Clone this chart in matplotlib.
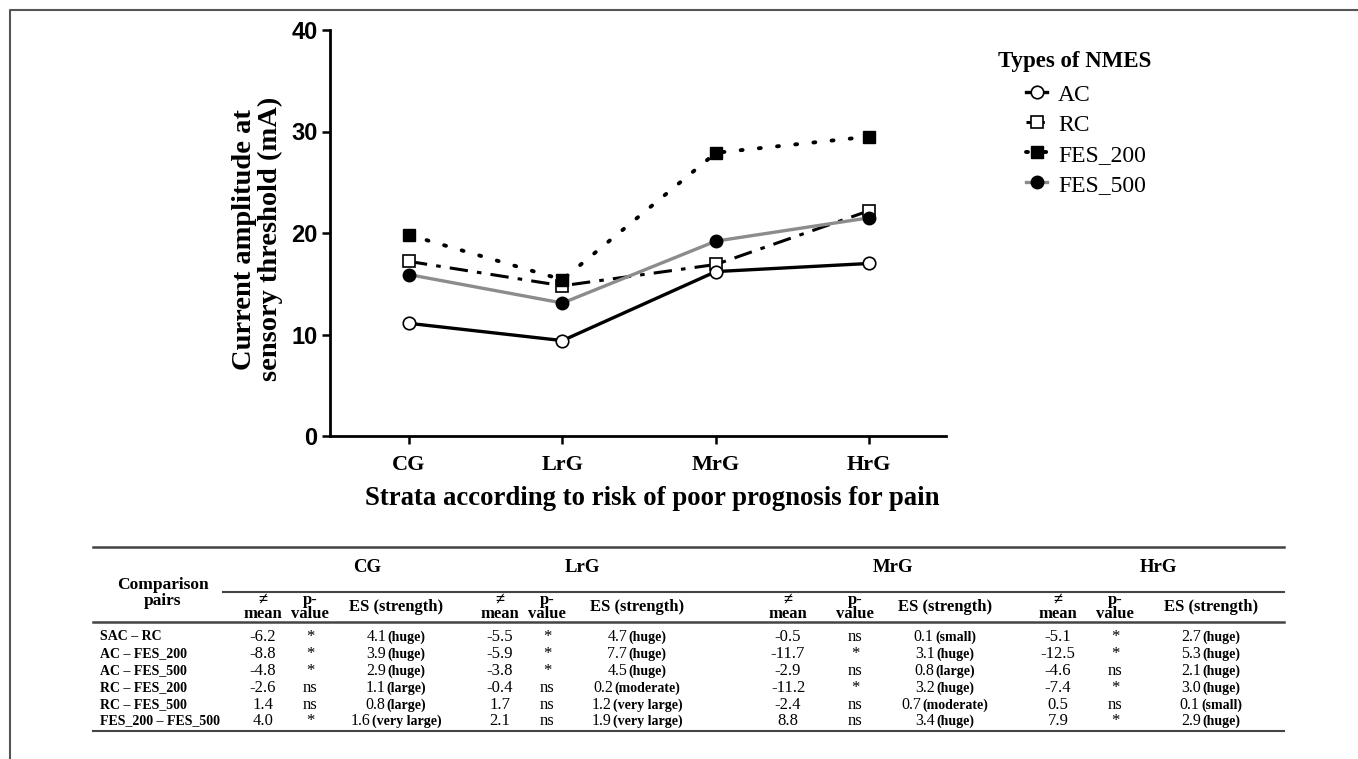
import matplotlib
matplotlib.use("Agg")
import matplotlib.pyplot as plt
from matplotlib.lines import Line2D
from matplotlib.offsetbox import TextArea, HPacker, AnnotationBbox

W, H = 1358, 759

# chart data
strata = ["CG", "LrG", "MrG", "HrG"]
ac = [11.1, 9.4, 16.2, 17.0]
rc = [17.2, 14.8, 16.9, 22.2]
fes_200 = [19.8, 15.4, 27.9, 29.5]
fes_500 = [15.9, 13.1, 19.2, 21.5]

# table data
pairs = ["SAC – RC", "AC – FES_200", "AC – FES_500", "RC – FES_200",
         "RC – FES_500", "FES_200 – FES_500"]
mean_cg = [-6.2, -8.8, -4.8, -2.6, 1.4, 4.0]
mean_lrg = [-5.5, -5.9, -3.8, -0.4, 1.7, 2.1]
mean_mrg = [-0.5, -11.7, -2.9, -11.2, -2.4, 8.8]
mean_hrg = [-5.1, -12.5, -4.6, -7.4, 0.5, 7.9]
p_cg = ["*", "*", "*", "ns", "ns", "*"]
p_lrg = ["*", "*", "*", "ns", "ns", "ns"]
p_mrg = ["ns", "*", "ns", "*", "ns", "ns"]
p_hrg = ["*", "*", "ns", "*", "ns", "*"]
es_cg = [4.1, 3.9, 2.9, 1.1, 0.8, 1.6]
es_lrg = [4.7, 7.7, 4.5, 0.2, 1.2, 1.9]
es_mrg = [0.1, 3.1, 0.8, 3.2, 0.7, 3.4]
es_hrg = [2.7, 5.3, 2.1, 3.0, 0.1, 2.9]
str_cg = ["huge", "huge", "huge", "large", "large", "very large"]
str_lrg = ["huge", "huge", "huge", "moderate", "very large", "very large"]
str_mrg = ["small", "huge", "large", "huge", "moderate", "huge"]
str_hrg = ["huge", "huge", "huge", "huge", "small", "huge"]

SERIF = ["Liberation Serif", "DejaVu Serif"]
NARROW = ["Liberation Sans Narrow", "Liberation Sans", "DejaVu Sans"]


def fx(x):
    return x / W


def fy(y):
    return 1 - y / H


fig = plt.figure(figsize=(W / 100, H / 100), dpi=100)

# outer frame (left + top)
fig.add_artist(Line2D([fx(10), fx(10), fx(W)], [0, fy(10), fy(10)],
                      color="#555555", lw=1.5))

ax = fig.add_axes([fx(330), fy(436), fx(946) - fx(330), fy(30) - fy(436)])
x = list(range(len(strata)))
ax.plot(x, ac, color="black", lw=2.4, marker="o", ms=9, mfc="white",
        mec="black", mew=1.2, label="AC", zorder=4)
ax.plot(x, rc, color="black", lw=2.2, ls=(0, (6, 3, 1.5, 3)), marker="s",
        ms=9, mfc="white", mec="black", mew=1.2, label="RC", zorder=3)
ax.plot(x, fes_200, color="black", lw=2.8, ls=(0, (0.5, 4.2)),
        dash_capstyle="round", marker="s", ms=9, mfc="black", mec="black",
        label="FES_200", zorder=3)
ax.plot(x, fes_500, color="#8c8c8c", lw=2.4, marker="o", ms=9, mfc="black",
        mec="black", label="FES_500", zorder=3)

ax.set_xlim(-0.515, 3.5)
ax.set_ylim(0, 40)
ax.set_yticks([0, 10, 20, 30, 40])
ax.set_xticks(x)
ax.set_xticklabels(strata, family=SERIF, fontweight="bold", fontsize=16)
for t in ax.get_yticklabels():
    t.set_family(NARROW)
    t.set_fontweight("bold")
    t.set_fontsize(17)
for s in ["top", "right"]:
    ax.spines[s].set_visible(False)
for s in ["left", "bottom"]:
    ax.spines[s].set_linewidth(2)
ax.tick_params(width=1.8, length=6, pad=3)
ax.tick_params(axis="x", pad=8)
ax.set_xlabel("Strata according to risk of poor prognosis for pain",
              family=SERIF, fontweight="bold", fontsize=19.3)
ax.xaxis.set_label_coords(0.523, -0.124)
ax.set_ylabel("Current amplitude at\nsensory threshold (mA)", family=SERIF,
              fontweight="bold", fontsize=20.5, linespacing=1.0)
ax.yaxis.set_label_coords(-0.077, 0.485)

fig.text(fx(998), fy(62), "Types of NMES", family=SERIF, fontweight="bold",
         fontsize=16.5, ha="left", va="center")
leg = ax.legend(loc="upper left", bbox_to_anchor=(fx(1026), fy(84)),
                bbox_transform=fig.transFigure, frameon=False,
                handlelength=0.9, handletextpad=0.45, labelspacing=0.36,
                borderaxespad=0, borderpad=0,
                prop={"family": SERIF, "size": 17})

# table
col_groups = [
    ("CG", 367, (263, mean_cg), (310, p_cg), (396, es_cg, str_cg)),
    ("LrG", 582, (500, mean_lrg), (547, p_lrg), (637, es_lrg, str_lrg)),
    ("MrG", 893, (788, mean_mrg), (855, p_mrg), (945, es_mrg, str_mrg)),
    ("HrG", 1158, (1058, mean_hrg), (1115, p_hrg), (1211, es_hrg, str_hrg)),
]
row_y = [637, 654, 671, 688, 705, 721]

for yl, x0, lw in [(547, 93, 1.8), (592, 223, 1.5), (622, 93, 1.8),
                   (731, 93, 1.5)]:
    fig.add_artist(Line2D([fx(x0), fx(1284)], [fy(yl), fy(yl)],
                          color="#444444", lw=lw))

fig.text(fx(163), fy(593), "Comparison\npairs", family=SERIF,
         fontweight="bold", fontsize=12.5, ha="center", va="center",
         linespacing=1.0)

for name, hx, (mx, means), (px, ps), (ex, ess, strs) in col_groups:
    fig.text(fx(hx), fy(568), name, family=SERIF, fontweight="bold",
             fontsize=13.5, ha="center", va="center")
    fig.text(fx(mx), fy(607), "≠\nmean", family=SERIF, fontweight="bold",
             fontsize=12, ha="center", va="center", linespacing=0.8)
    fig.text(fx(px), fy(607), "p-\nvalue", family=SERIF, fontweight="bold",
             fontsize=12, ha="center", va="center", linespacing=0.8)
    fig.text(fx(ex), fy(607), "ES (strength)", family=SERIF,
             fontweight="bold", fontsize=12, ha="center", va="center")
    for i, ry in enumerate(row_y):
        fig.text(fx(mx), fy(ry), f"{means[i]:.1f}", family=SERIF,
                 fontsize=12, ha="center", va="center")
        fig.text(fx(px), fy(ry), ps[i], family=SERIF, fontsize=12,
                 ha="center", va="center")
        box = HPacker(children=[
            TextArea(f"{ess[i]:.1f}", textprops={"family": SERIF,
                                                  "size": 11.5}),
            TextArea(f"({strs[i]})", textprops={"family": SERIF,
                                                "size": 10,
                                                "weight": "bold"})],
            align="baseline", pad=0, sep=1)
        ab = AnnotationBbox(box, (fx(ex), fy(ry)), xycoords="figure fraction",
                            frameon=False, box_alignment=(0.5, 0.5), pad=0)
        fig.add_artist(ab)

for i, ry in enumerate(row_y):
    fig.text(fx(100), fy(ry), pairs[i], family=SERIF, fontweight="bold",
             fontsize=10, ha="left", va="center")

fig.savefig("out.png", dpi=100)
